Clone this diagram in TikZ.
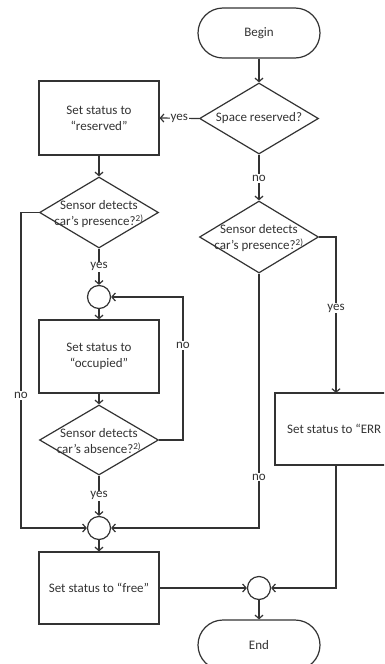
\documentclass[tikz,border=0pt]{standalone}
\usepackage{fontspec}
\setmainfont{Carlito}
\usetikzlibrary{shapes.geometric,arrows.meta}
\definecolor{ln}{HTML}{333333}
\tikzset{
  every node/.style={font=\fontsize{13}{16}\selectfont, text=ln},
  arr/.style={draw=ln, line width=1.2pt, -{Straight Barb[length=3.5pt,width=8pt]}},
  lin/.style={draw=ln, line width=1.2pt},
  boxx/.style={draw=ln, line width=1.2pt, rectangle, minimum width=120pt, minimum height=73pt, inner sep=0pt, align=center},
  dia/.style={draw=ln, line width=1.2pt, diamond, minimum width=119pt, minimum height=71pt, inner sep=0pt},
  dtext/.style={align=center, inner sep=0pt},
  term/.style={draw=ln, line width=1.2pt, rectangle, rounded corners=25pt, minimum width=122pt, minimum height=50pt, inner sep=0pt},
  conn/.style={draw=ln, line width=1.2pt, circle, minimum size=23pt, inner sep=0pt},
  lab/.style={fill=white, inner sep=1pt}
}
\begin{document}
\begin{tikzpicture}[x=1pt,y=-1pt]
\useasboundingbox (0,0) rectangle (384,664);
\clip (0,0) rectangle (384,664);
\fill[white] (0,0) rectangle (384,664);
% nodes
\node[term] (begin) at (259,33) {Begin};
\node[dia] (d1) at (259,118.5) {};
\node[dtext] (d1t) at (d1) {Space reserved?};
\node[boxx, minimum height=74pt] (res) at (99,118) {Set status to\\“reserved”};
\node[dia] (d2) at (99,212.5) {};
\node[dtext] (d2t) at (99,214) {Sensor detects\\car’s presence?\textsuperscript{2)}};
\node[conn] (c1) at (99,297) {};
\node[boxx] (occ) at (99,356.5) {Set status to\\“occupied”};
\node[dia, minimum height=70pt] (d3) at (99,440) {};
\node[dtext] (d3t) at (99,441) {Sensor detects\\car’s absence?\textsuperscript{2)}};
\node[conn] (c2) at (99,528) {};
\node[boxx, minimum height=72pt] (free) at (99,588) {Set status to “free”};
\node[conn] (c3) at (259,588) {};
\node[term] (end) at (259,645) {End};
\node[dia, minimum height=72pt] (d4) at (259,237) {};
\node[dtext] (d4t) at (259,238) {Sensor detects\\car’s presence?\textsuperscript{2)}};
\node[boxx, minimum width=150pt, minimum height=72pt] (err) at (350,429) {};
\node[anchor=west, inner sep=0pt] (errt) at (287,429) {Set status to “ERR};
% helper coordinates
\coordinate (lx) at (21,212.5);
\coordinate (ly) at (21,528);
\coordinate (rx) at (183,440);
\coordinate (ry) at (183,297);
\coordinate (mx) at (259,528);
\coordinate (ex) at (336,237);
\coordinate (et) at (336,393);
\coordinate (eb) at (336,465);
\coordinate (ey) at (336,588);
% connectors
\draw[arr] (begin) -- (d1);
\draw[arr] (d1.west) -- node[lab]{yes} (res.east);
\draw[arr] (d1.south) -- node[lab, pos=0.52]{no} (d4.north);
\draw[arr] (res) -- (d2);
\draw[arr] (d2.west) -- (lx) -- node[lab, pos=0.58]{no} (ly) -- (c2.west);
\draw[arr] (d2.south) -- node[lab]{yes} (c1.north);
\draw[arr] (c1) -- (occ);
\draw[arr] (occ) -- (d3);
\draw[arr] (d3.east) -- (rx) -- node[lab, pos=0.66]{no} (ry) -- (c1.east);
\draw[arr] (d3.south) -- node[lab]{yes} (c2.north);
\draw[arr] (d4.south) -- node[lab, pos=0.8]{no} (mx) -- (c2.east);
\draw[arr] (d4.east) -- (ex) -- node[lab, pos=0.455]{yes} (et);
\draw[arr] (eb) -- (ey) -- (c3.east);
\draw[arr] (c2) -- (free);
\draw[arr] (free.east) -- (c3.west);
\draw[arr] (c3) -- (end);
\end{tikzpicture}
\end{document}
